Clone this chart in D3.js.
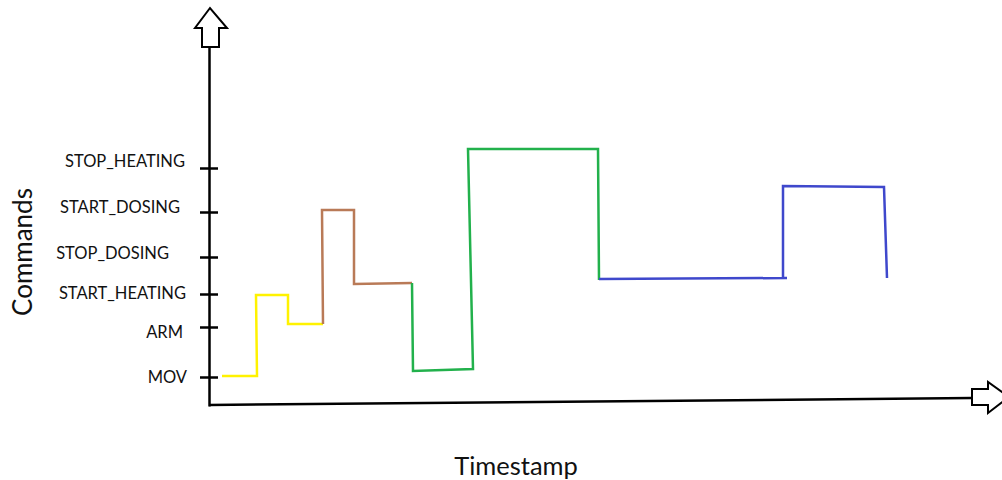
<!DOCTYPE html>
<html>
<head>
<meta charset="utf-8">
<script src="https://cdn.jsdelivr.net/npm/d3@7"></script>
<style>
  body { margin: 0; background: #fff; }
  svg { display: block; font-family: Lato, "Open Sans", sans-serif; }
</style>
</head>
<body>
<svg id="chart"></svg>
<script>
// command names on the y axis and the level each tick sits at
var commands = ["MOV", "ARM", "START_HEATING", "STOP_DOSING", "START_DOSING", "STOP_HEATING"];
var commandLevels = [29, 79, 112, 149, 194, 238];

// hand drawn step segments, one colour each (timestamp, level)
var yellowTime = [13, 48, 47, 79, 79, 114];
var yellowLevel = [30, 30, 111, 111, 82, 82];

var brownTime = [114, 113, 145, 145, 203];
var brownLevel = [82, 196, 196, 122, 123];

var greenTime = [203, 204, 264, 259, 389, 390];
var greenLevel = [123, 35, 37, 257, 257, 126];

var blueTime = [390, 578, 574, 574, 675, 678];
var blueLevel = [127, 128, 128, 220, 219, 128];

(function () {
  var width = 1002,
    height = 480;

  // the labels were written by hand, so they don't line up exactly
  var labelNudgeX = [0, -4, -1, -18, -7, -2],
    labelNudgeY = [1, 6, 0, -3, -4, -6];

  var svg = d3.select("#chart")
    .attr("width", width)
    .attr("height", height);

  var x = d3.scaleLinear().domain([0, 763]).range([209, 972]);
  var y = d3.scaleLinear().domain([0, 359]).range([406, 47]);

  // y axis with crossing tick marks
  var yAxis = svg.append("g")
    .attr("transform", "translate(" + x(0) + ",0)")
    .call(d3.axisLeft(y)
      .tickValues(commandLevels)
      .tickFormat(function (d, i) { return commands[i]; })
      .tickSizeOuter(0));

  yAxis.select(".domain")
    .attr("stroke", "#000")
    .attr("stroke-width", 2.5);

  yAxis.selectAll(".tick line")
    .attr("x1", -9)
    .attr("x2", 9)
    .attr("stroke", "#000")
    .attr("stroke-width", 2.5);

  yAxis.selectAll(".tick text")
    .attr("x", function (d, i) { return -22 + labelNudgeX[i]; })
    .attr("y", function (d, i) { return labelNudgeY[i]; })
    .attr("dy", "0.3em")
    .attr("fill", "#111")
    .style("font-size", "16.5px")
    .style("font-family", "Lato, 'Open Sans', sans-serif");

  // x axis, drawn slightly tilted like the sketch
  svg.append("line")
    .attr("x1", x(0))
    .attr("y1", y(0) - 1)
    .attr("x2", x.range()[1])
    .attr("y2", y(0) - 8)
    .attr("stroke", "#000")
    .attr("stroke-width", 2.5);

  // outlined arrow heads
  var top = y.range()[1],
    ax = x(0);
  svg.append("path")
    .attr("d", "M" + (ax - 7) + "," + top + "L" + (ax - 7) + "," + (top - 19) +
      "L" + (ax - 14) + "," + (top - 19) + "L" + (ax + 1) + "," + (top - 39) +
      "L" + (ax + 18) + "," + (top - 19) + "L" + (ax + 10) + "," + (top - 19) +
      "L" + (ax + 10) + "," + top + "Z")
    .attr("fill", "#fff")
    .attr("stroke", "#000")
    .attr("stroke-width", 2);

  var rx = x.range()[1],
    ry = y(0) - 9;
  svg.append("path")
    .attr("d", "M" + rx + "," + (ry - 8) + "L" + (rx + 16) + "," + (ry - 8) +
      "L" + (rx + 16) + "," + (ry - 15) + "L" + (rx + 37) + "," + ry +
      "L" + (rx + 16) + "," + (ry + 16) + "L" + (rx + 16) + "," + (ry + 8) +
      "L" + rx + "," + (ry + 8) + "Z")
    .attr("fill", "#fff")
    .attr("stroke", "#000")
    .attr("stroke-width", 2);

  // the coloured step lines
  var line = d3.line()
    .x(function (d) { return x(d.t); })
    .y(function (d) { return y(d.v); });

  var series = [
    { color: "#fff200", time: yellowTime, level: yellowLevel },
    { color: "#b97a57", time: brownTime, level: brownLevel },
    { color: "#22b14c", time: greenTime, level: greenLevel },
    { color: "#3f48cc", time: blueTime, level: blueLevel }
  ];

  series.forEach(function (s) {
    var pts = s.time.map(function (t, i) {
      return { t: t, v: s.level[i] };
    });
    svg.append("path")
      .datum(pts)
      .attr("d", line)
      .attr("fill", "none")
      .attr("stroke", s.color)
      .attr("stroke-width", 2.5)
      .attr("stroke-linejoin", "miter");
  });

  // axis titles
  svg.append("text")
    .attr("transform", "translate(32,252) rotate(-90)")
    .style("text-anchor", "middle")
    .style("font-size", "26px")
    .attr("fill", "#111")
    .text("Commands");

  svg.append("text")
    .attr("x", 516)
    .attr("y", 475)
    .style("text-anchor", "middle")
    .style("font-size", "25.5px")
    .attr("fill", "#111")
    .text("Timestamp");
})();
</script>
</body>
</html>
